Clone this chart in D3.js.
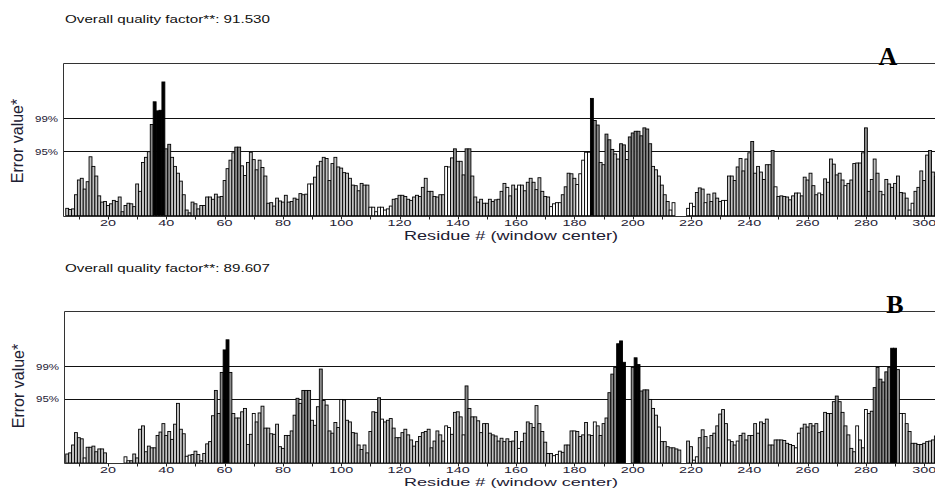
<!DOCTYPE html>
<html>
<head>
<meta charset="utf-8">
<script src="https://cdn.jsdelivr.net/npm/d3@7"></script>
<style>
  html, body { margin: 0; padding: 0; background: #fff; }
  svg { display: block; }
</style>
</head>
<body>
<svg id="chart" width="935" height="488"></svg>
<script>
// ERRAT error values per 9-residue window, indexed by window center (first center = residue 6)
const firstResidue = 6;

const errorA = [
  1.3, 1.1, 1.2, 3.7, 6.3, 6.6, 4.7, 6.0, 10.4, 8.7,
  7.0, 3.5, 2.4, 2.5, 1.8, 2.1, 2.7, 2.5, 3.3, 0.7,
  1.8, 2.2, 2.1, 1.6, 5.6, 4.3, 9.4, 10.3, 11.3, 16.1,
  20.1, 18.5, 18.6, 23.6, 11.8, 12.6, 10.3, 8.7, 7.5, 6.1,
  3.7, 1.0, 0.5, 2.4, 2.1, 1.2, 1.8, 1.8, 3.3, 3.3,
  2.9, 3.8, 3.3, 3.4, 6.2, 8.3, 9.8, 11.1, 12.1, 12.1,
  8.8, 7.1, 9.4, 11.2, 9.9, 8.1, 9.8, 8.5, 7.0, 2.2,
  2.3, 1.7, 3.1, 2.6, 2.4, 3.6, 2.4, 2.5, 3.1, 2.9,
  3.9, 3.7, 3.8, 5.6, 5.6, 6.8, 8.8, 9.6, 10.3, 10.1,
  6.2, 9.2, 10.3, 8.6, 8.4, 7.6, 7.5, 6.6, 5.4, 5.3,
  4.4, 5.7, 5.4, 5.4, 1.5, 1.5, 0.7, 1.5, 1.5, 1.0,
  1.2, 1.7, 2.9, 3.0, 3.6, 3.6, 3.4, 2.9, 2.7, 3.3,
  3.6, 3.4, 5.0, 6.6, 4.3, 4.3, 3.4, 3.3, 3.7, 3.7,
  8.7, 8.6, 10.2, 11.8, 9.6, 9.6, 7.2, 11.8, 11.8, 7.0,
  3.3, 2.4, 2.9, 2.2, 2.2, 2.9, 2.5, 2.8, 2.9, 4.3,
  5.7, 5.0, 3.5, 5.4, 4.7, 5.4, 5.4, 4.4, 5.9, 6.6,
  5.9, 4.6, 6.7, 4.3, 3.4, 3.3, 1.6, 2.1, 2.3, 2.3,
  3.7, 5.1, 7.5, 7.4, 6.6, 5.5, 7.4, 9.8, 11.2, 11.2,
  20.7, 16.8, 16.0, 9.4, 9.0, 14.4, 13.4, 11.7, 10.9, 10.0,
  12.7, 12.5, 9.9, 13.9, 14.6, 14.9, 14.9, 14.1, 15.5, 15.3,
  12.7, 8.7, 8.1, 7.0, 5.4, 3.7, 2.5, 1.0, 2.3, 0,
  0, 0, 0, 1.3, 2.2, 1.6, 4.1, 4.9, 4.7, 2.3,
  3.8, 2.5, 4.0, 3.1, 2.5, 2.7, 2.7, 7.0, 7.0, 6.2,
  8.6, 10.1, 7.9, 10.0, 11.1, 13.1, 7.5, 8.7, 7.7, 6.4,
  9.0, 9.0, 11.5, 5.1, 3.4, 3.5, 3.4, 3.3, 2.8, 3.5,
  4.0, 4.0, 3.5, 6.8, 6.3, 7.5, 5.3, 3.7, 4.0, 3.7,
  6.5, 5.9, 10.0, 9.1, 7.2, 7.5, 6.3, 5.3, 5.7, 6.3,
  9.2, 9.3, 9.3, 11.1, 15.5, 4.3, 6.4, 10.0, 7.5, 4.3,
  3.7, 6.4, 5.6, 5.0, 5.7, 7.0, 4.1, 4.0, 3.1, 1.0,
  2.2, 4.3, 5.0, 7.9, 6.2, 10.7, 11.5, 7.7, 6.9
];

const errorB = [
  1.6, 1.8, 3.2, 5.4, 4.5, 4.3, 0.9, 2.8, 2.8, 3.0,
  2.0, 2.5, 2.5, 1.8, 0, 0, 0, 0, 0, 0,
  1.1, 0.4, 0.4, 1.6, 0.9, 6.0, 6.6, 2.0, 3.0, 2.7,
  2.7, 4.9, 5.5, 7.0, 4.9, 5.6, 4.2, 6.9, 10.6, 6.0,
  5.2, 1.2, 1.4, 1.5, 2.1, 1.5, 0.4, 1.7, 3.4, 3.8,
  8.4, 12.9, 8.8, 16.1, 20.1, 21.9, 16.1, 8.8, 8.0, 8.0,
  9.1, 9.7, 3.3, 5.1, 8.8, 7.3, 8.9, 10.1, 6.2, 6.2,
  5.2, 5.1, 6.9, 2.9, 2.6, 4.9, 4.9, 5.7, 8.5, 11.5,
  10.6, 12.9, 12.9, 12.9, 7.6, 6.7, 10.0, 16.7, 11.1, 10.3,
  5.7, 5.3, 7.2, 6.3, 11.3, 11.2, 7.6, 7.3, 5.4, 5.3,
  3.2, 2.4, 3.2, 1.8, 5.6, 9.1, 9.0, 11.6, 7.8, 7.3,
  7.6, 7.9, 6.2, 4.5, 4.5, 5.4, 6.0, 5.0, 4.1, 3.0,
  3.8, 4.7, 5.4, 5.6, 6.0, 2.7, 3.9, 5.7, 5.0, 3.9,
  6.6, 6.3, 5.1, 9.0, 9.1, 8.2, 5.0, 13.7, 9.7, 8.2,
  8.2, 7.5, 5.4, 7.0, 7.0, 5.3, 5.0, 4.8, 3.9, 4.4,
  3.8, 4.3, 3.8, 3.9, 5.6, 2.6, 3.8, 5.3, 7.3, 7.0,
  6.3, 10.2, 7.0, 5.6, 3.7, 1.7, 1.7, 1.3, 1.5, 2.1,
  1.9, 3.2, 3.2, 5.7, 5.7, 5.6, 4.7, 5.0, 7.2, 5.0,
  4.9, 7.3, 6.6, 4.9, 7.0, 8.0, 12.5, 15.8, 17.0, 21.2,
  21.7, 17.9, 0, 0, 17.0, 18.7, 17.5, 12.8, 13.0, 13.0,
  11.3, 9.7, 8.5, 6.4, 3.8, 3.8, 2.9, 2.7, 2.7, 2.5,
  2.3, 0, 0, 3.9, 2.9, 0.5, 1.1, 4.5, 5.9, 4.7,
  2.7, 4.9, 5.3, 6.6, 8.7, 9.5, 7.0, 4.1, 3.8, 3.2,
  3.9, 4.9, 5.3, 4.1, 4.9, 4.9, 7.0, 5.3, 7.3, 7.0,
  7.8, 3.2, 3.2, 4.1, 4.1, 4.1, 4.0, 3.5, 3.3, 3.1,
  2.7, 5.3, 6.2, 6.9, 6.4, 7.0, 6.6, 7.0, 5.4, 5.6,
  9.0, 8.8, 8.8, 10.9, 11.9, 10.9, 9.0, 6.6, 5.0, 2.6,
  2.0, 6.6, 4.1, 2.7, 9.5, 8.8, 9.2, 13.4, 17.0, 14.9,
  14.4, 16.2, 17.0, 20.4, 20.4, 16.6, 8.8, 8.8, 7.0, 5.6,
  3.5, 3.5, 3.3, 3.3, 3.5, 3.8, 3.9, 4.1, 4.8
];

// window centers drawn with open (white) bars
const whiteA = [89, 90, 110, 111, 112, 113, 114, 115, 116, 117, 136, 137, 157, 161,
  172, 173, 174, 175, 181, 182, 183, 184, 185, 213, 214, 219, 220, 221, 225, 231, 232,
  249, 257, 264, 273, 286, 295, 296];
const whiteB = [12, 26, 27, 47, 48, 70, 100, 114, 136, 137, 142, 161, 173, 174, 175,
  180, 187, 209, 221, 222, 226, 233, 236, 256, 257, 277, 280, 292, 293];

const qualityA = "91.530";
const qualityB = "89.607";
const panelLetters = ["A", "B"];

// ERRAT rejection limits (95% and 99% confidence)
const limit95 = 11.38;
const limit99 = 17.19;
const limitLabels = ["95%", "99%"];

const majorTicks = d3.range(20, 301, 20);
const minorTicks = d3.range(10, 301, 10);

const W = 935;
const svg = d3.select("#chart");
const x = d3.scaleLinear().domain([20, 300]).range([108, 924.2]);

const sansFont = "'Liberation Sans', Arial, sans-serif";
const labelColor = "#1d2033";

function drawPanel(opt) {
  const g = svg.append("g");
  const y = d3.scaleLinear().domain([0, limit99]).range([opt.base, opt.line99]);
  const whiteSet = new Set(opt.white);
  const data = opt.values.map((v, i) => ({ res: firstResidue + i, v }));

  // header
  g.append("text")
    .attr("x", 65).attr("y", opt.headerY)
    .attr("font-family", sansFont).attr("font-size", 11.5)
    .attr("fill", "#111")
    .attr("textLength", 205).attr("lengthAdjust", "spacingAndGlyphs")
    .text("Overall quality factor**: " + opt.quality);

  // limit lines (under the bars)
  [limit99, limit95].forEach(l => {
    const yy = Math.round(y(l)) + 0.5;
    g.append("line")
      .attr("x1", opt.left).attr("x2", W).attr("y1", yy).attr("y2", yy)
      .attr("stroke", "#111").attr("stroke-width", 1);
  });

  // bars
  g.append("g").selectAll("rect")
    .data(data.filter(d => d.v > 0))
    .join("rect")
    .attr("x", d => x(d.res - 0.5))
    .attr("width", d => x(d.res + 0.5) - x(d.res - 0.5))
    .attr("y", d => y(d.v))
    .attr("height", d => opt.base - y(d.v))
    .attr("fill", d => d.v > limit99 ? "#000"
      : whiteSet.has(d.res) ? "#fff"
      : d.v > limit95 ? "#8a8a8a" : "#c2c2c2")
    .attr("stroke", "#000")
    .attr("stroke-width", 0.9);

  // frame: left and top edges plus baseline
  const top = Math.round(opt.top) + 0.5;
  const left = Math.round(opt.left) + 0.5;
  const base = Math.round(opt.base) + 0.5;
  g.append("path")
    .attr("d", `M${W},${top}H${left}V${base}H${W}`)
    .attr("fill", "none").attr("stroke", "#333").attr("stroke-width", 1);

  // x ticks
  g.append("g").selectAll("line")
    .data(minorTicks)
    .join("line")
    .attr("x1", d => Math.round(x(d)) + 0.5).attr("x2", d => Math.round(x(d)) + 0.5)
    .attr("y1", base).attr("y2", base + 3)
    .attr("stroke", "#222").attr("stroke-width", 1);

  g.append("g").selectAll("text")
    .data(majorTicks)
    .join("text")
    .attr("x", d => x(d)).attr("y", opt.base + opt.tickDy)
    .attr("text-anchor", "middle")
    .attr("font-family", sansFont).attr("font-size", 9.5)
    .attr("fill", labelColor)
    .attr("textLength", d => String(d).length * 8)
    .attr("lengthAdjust", "spacingAndGlyphs")
    .text(d => d);

  // limit labels
  [limit95, limit99].forEach((l, i) => {
    g.append("text")
      .attr("x", opt.left - 5).attr("y", y(l) + 3.5)
      .attr("text-anchor", "end")
      .attr("font-family", sansFont).attr("font-size", 9.5)
      .attr("fill", labelColor)
      .attr("textLength", 23).attr("lengthAdjust", "spacingAndGlyphs")
      .text(limitLabels[i]);
  });

  // y title
  g.append("text")
    .attr("transform", `translate(${opt.left - 40},${opt.yTitleY}) rotate(-90)`)
    .attr("text-anchor", "middle")
    .attr("font-family", sansFont).attr("font-size", 16)
    .attr("fill", labelColor)
    .text("Error value*");

  // x title
  g.append("text")
    .attr("x", 511).attr("y", opt.base + opt.xTitleDy)
    .attr("text-anchor", "middle")
    .attr("font-family", sansFont).attr("font-size", opt.xTitleSize)
    .attr("fill", labelColor)
    .attr("textLength", 214).attr("lengthAdjust", "spacingAndGlyphs")
    .text("Residue # (window center)");

  // panel letter
  g.append("text")
    .attr("x", opt.letterX).attr("y", opt.letterY)
    .attr("text-anchor", "middle")
    .attr("font-family", "'Liberation Serif', 'Times New Roman', serif")
    .attr("font-weight", "bold").attr("font-size", 26)
    .attr("fill", "#000")
    .text(opt.letter);
}

drawPanel({
  values: errorA, white: whiteA, quality: qualityA, letter: panelLetters[0],
  left: 63, top: 62.5, base: 215.7, line99: 118.3,
  headerY: 23, yTitleY: 141, letterX: 888, letterY: 65,
  tickDy: 10.5, xTitleDy: 24.5, xTitleSize: 13
});

drawPanel({
  values: errorB, white: whiteB, quality: qualityB, letter: panelLetters[1],
  left: 64, top: 311, base: 463, line99: 366.3,
  headerY: 272, yTitleY: 386, letterX: 895, letterY: 313,
  tickDy: 10, xTitleDy: 22.5, xTitleSize: 11.5
});
</script>
</body>
</html>
